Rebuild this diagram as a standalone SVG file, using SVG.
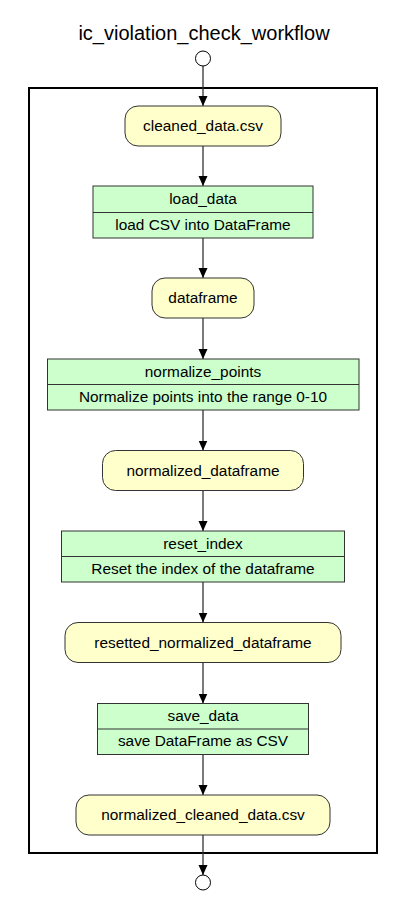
<svg xmlns="http://www.w3.org/2000/svg" width="416" height="906" viewBox="0 0 416 906">
<defs>
<marker id="ah" markerWidth="10" markerHeight="10" refX="10" refY="5" orient="auto" markerUnits="userSpaceOnUse" viewBox="0 0 10 10">
<path d="M0,0.5 L10,5 L0,9.5 Z" fill="#000"/>
</marker>
<style>
text{font-family:"Liberation Sans",Arial,sans-serif;font-size:15.4px;fill:#000;text-anchor:middle;dominant-baseline:central}
.title{font-size:20px}
.data{fill:#ffffcc;stroke:#333;stroke-width:1}
.proc{fill:#ccffcc;stroke:#333;stroke-width:1}
.term{fill:#fff;stroke:#000;stroke-width:1}
.edge{stroke:#333;stroke-width:1.3;fill:none;marker-end:url(#ah)}
.frame{fill:none;stroke:#000;stroke-width:2}
</style>
</defs>
<rect width="416" height="906" fill="#fff"/>
<text class="title" x="204" y="33">ic_violation_check_workflow</text>
<rect class="frame" x="29" y="88" width="348" height="765"/>
<g id="connectors">
<line class="edge" x1="203" y1="66" x2="203" y2="106"/>
<line class="edge" x1="203" y1="146" x2="203" y2="186"/>
<line class="edge" x1="203" y1="238" x2="203" y2="278"/>
<line class="edge" x1="203" y1="318" x2="203" y2="359"/>
<line class="edge" x1="203" y1="410" x2="203" y2="450.5"/>
<line class="edge" x1="203" y1="490.5" x2="203" y2="531"/>
<line class="edge" x1="203" y1="582" x2="203" y2="622.5"/>
<line class="edge" x1="203" y1="662.5" x2="203" y2="703.5"/>
<line class="edge" x1="203" y1="754.5" x2="203" y2="795"/>
<line class="edge" x1="203" y1="835" x2="203" y2="875"/>
</g>
<g id="start"><circle class="term" cx="203" cy="58.5" r="7.5"/></g>
<g id="cleaned_data_csv">
<rect class="data" x="125" y="106" width="156" height="40" rx="13"/>
<text x="203" y="125.5">cleaned_data.csv</text>
</g>
<g id="load_data">
<rect class="proc" x="93" y="186" width="220" height="52"/>
<line x1="93" y1="212.5" x2="313" y2="212.5" stroke="#333"/>
<text x="203" y="198.5">load_data</text>
<text x="203" y="224">load CSV into DataFrame</text>
</g>
<g id="dataframe">
<rect class="data" x="152" y="278" width="102" height="40" rx="13"/>
<text x="203" y="297.5">dataframe</text>
</g>
<g id="normalize_points">
<rect class="proc" x="47.5" y="359" width="311.5" height="51"/>
<line x1="47.5" y1="384.5" x2="359" y2="384.5" stroke="#333"/>
<text x="203" y="371">normalize_points</text>
<text x="203" y="396">Normalize points into the range 0-10</text>
</g>
<g id="normalized_dataframe">
<rect class="data" x="102.5" y="450.5" width="201" height="40" rx="13"/>
<text x="203" y="470">normalized_dataframe</text>
</g>
<g id="reset_index">
<rect class="proc" x="61.5" y="531" width="283" height="51"/>
<line x1="61.5" y1="556.5" x2="344.5" y2="556.5" stroke="#333"/>
<text x="203" y="543">reset_index</text>
<text x="203" y="568">Reset the index of the dataframe</text>
</g>
<g id="resetted_normalized_dataframe">
<rect class="data" x="65" y="622.5" width="276" height="40" rx="13"/>
<text x="203" y="642">resetted_normalized_dataframe</text>
</g>
<g id="save_data">
<rect class="proc" x="97.5" y="703.5" width="211" height="51"/>
<line x1="97.5" y1="729" x2="308.5" y2="729" stroke="#333"/>
<text x="203" y="715.5">save_data</text>
<text x="203" y="740.5">save DataFrame as CSV</text>
</g>
<g id="normalized_cleaned_data_csv">
<rect class="data" x="76" y="795" width="254" height="40" rx="13"/>
<text x="203" y="814.5">normalized_cleaned_data.csv</text>
</g>
<g id="end"><circle class="term" cx="203" cy="882.5" r="7.5"/></g>
</svg>
